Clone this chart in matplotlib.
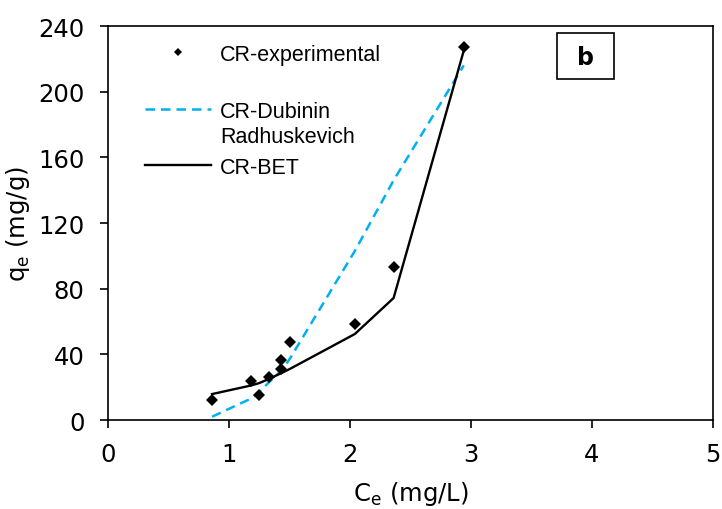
import matplotlib
matplotlib.use("Agg")
import matplotlib.pyplot as plt
from matplotlib.patches import Rectangle

plt.rcParams['font.family'] = ['DejaVu Sans']

# Data
ce_exp = [0.86, 1.18, 1.25, 1.33, 1.43, 1.43, 1.50, 2.04, 2.36, 2.94]
qe_exp = [12.4, 24.0, 15.4, 26.4, 31.1, 36.7, 47.3, 58.5, 93.0, 227.0]
ce_fit = [0.86, 1.18, 1.25, 1.33, 1.43, 1.50, 2.04, 2.36, 2.94]
qe_dr = [2.0, 13.0, 17.0, 23.0, 30.0, 37.0, 103.0, 146.0, 216.0]
qe_bet = [15.8, 21.0, 22.5, 25.0, 28.5, 31.0, 52.4, 74.3, 225.0]
xticks = [0, 1, 2, 3, 4, 5]
yticks = [0, 40, 80, 120, 160, 200, 240]

fig = plt.figure(figsize=(7.22, 5.10), dpi=100)
ax = fig.add_axes([0.1496, 0.1745, 0.838, 0.7725])

blue = '#00B0F0'
dr, = ax.plot(ce_fit, qe_dr, color=blue, lw=1.8, dashes=(3.8, 2.4), zorder=2)
bet, = ax.plot(ce_fit, qe_bet, color='black', lw=1.7, zorder=3)
exp, = ax.plot(ce_exp, qe_exp, linestyle='none', marker='D', markersize=6.3,
               color='black', markeredgewidth=0, zorder=4)

ax.set_xlim(0, 5)
ax.set_ylim(0, 240)
ax.set_xticks(xticks)
ax.set_yticks(yticks)
ax.tick_params(direction='out', length=6, width=1.2, labelsize=17.5)
ax.tick_params(axis='x', pad=10)
ax.tick_params(axis='y', pad=11)
for s in ax.spines.values():
    s.set_linewidth(1.2)

ax.set_xlabel(r'C$_\mathregular{e}$ (mg/L)', fontsize=17.5, labelpad=9)
ax.set_ylabel(r'q$_\mathregular{e}$ (mg/g)', fontsize=17.5, labelpad=4)

lfont = {'family': 'Liberation Sans', 'size': 15.5}
common = dict(frameon=False, prop=lfont, handlelength=3.07, handletextpad=0.42,
              borderpad=0, borderaxespad=0, loc='center left')
l1 = ax.legend([exp], ['CR-experimental'], bbox_to_anchor=(0.061, 0.928),
               markerscale=0.72, **common)
ax.add_artist(l1)
l2 = ax.legend([dr], ['CR-Dubinin'], bbox_to_anchor=(0.061, 0.784), **common)
ax.add_artist(l2)
l3 = ax.legend([bet], ['CR-BET'], bbox_to_anchor=(0.061, 0.642), **common)
ax.text(0.185, 0.720, 'Radhuskevich', transform=ax.transAxes, ha='left',
        va='center', family='Liberation Sans', fontsize=15.5)

ax.add_patch(Rectangle((0.742, 0.865), 0.094, 0.117, transform=ax.transAxes,
                       fill=True, fc='white', ec='black', lw=1.2, zorder=5))
ax.text(0.789, 0.922, 'b', transform=ax.transAxes, ha='center', va='center',
        fontsize=17, fontweight='bold', zorder=6)

fig.savefig('out.png', dpi=100)
